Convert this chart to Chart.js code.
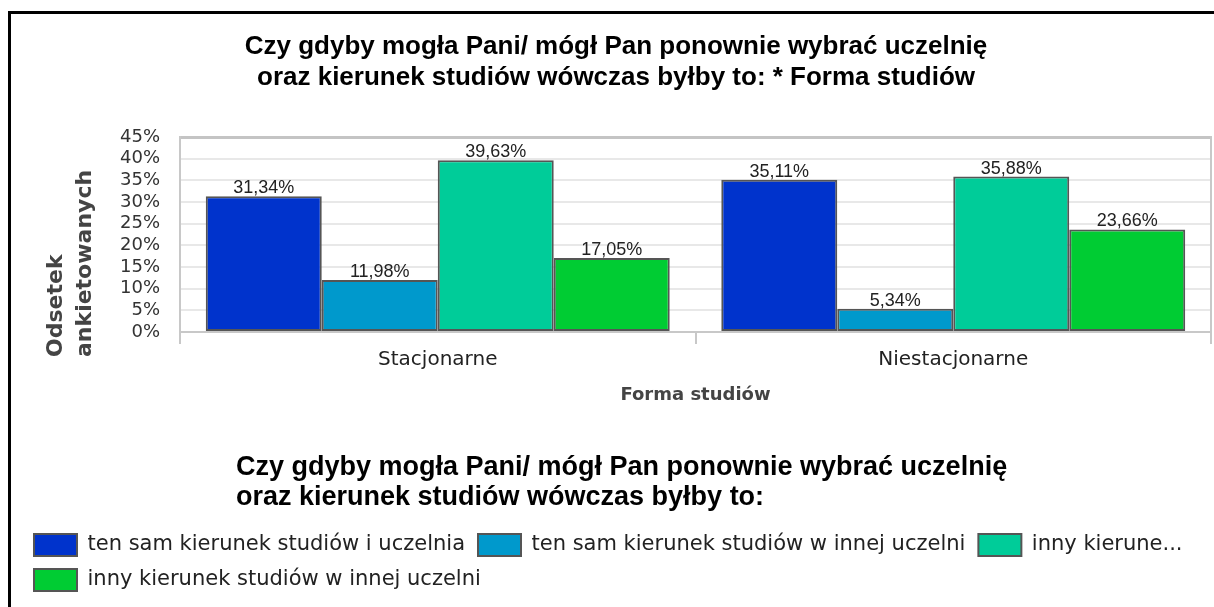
<!DOCTYPE html>
<html lang="pl">

<head>
    <meta charset="UTF-8">
    <title>Forma studiów</title>
    <script src="https://cdn.jsdelivr.net/npm/chart.js@4.4.1/dist/chart.umd.min.js"></script>
    <style>
        body {
            margin: 0;
            background-color: #fff;
        }

        .frame {
            position: absolute;
            left: 8px;
            top: 11px;
            border-left: 3px solid #000;
            border-top: 3px solid #000;
        }

        canvas {
            display: block;
        }
    </style>
</head>

<body>
    <div class="frame">
        <canvas id="formaChart" width="1203" height="593"></canvas>
    </div>

    <script>
        // values (percent of respondents)
        const categories = ['Stacjonarne', 'Niestacjonarne'];
        const seriesLabels = [
            'ten sam kierunek studiów i uczelnia',
            'ten sam kierunek studiów w innej uczelni',
            'inny kierune...',
            'inny kierunek studiów w innej uczelni'
        ];
        const sameFieldSameUni = [31.34, 35.11];
        const sameFieldOtherUni = [11.98, 5.34];
        const otherFieldSameUni = [39.63, 35.88];
        const otherFieldOtherUni = [17.05, 23.66];
        const yTicks = [0, 5, 10, 15, 20, 25, 30, 35, 40, 45];

        const chartTitle = ['Czy gdyby mogła Pani/ mógł Pan ponownie wybrać uczelnię',
            'oraz kierunek studiów wówczas byłby to: * Forma studiów'];
        const legendTitle = ['Czy gdyby mogła Pani/ mógł Pan ponownie wybrać uczelnię',
            'oraz kierunek studiów wówczas byłby to:'];
        const yTitle = ['Odsetek', 'ankietowanych'];
        const xTitle = 'Forma studiów';

        const colors = ['#0033cc', '#0099cc', '#00cc99', '#00cc33'];

        Chart.defaults.font.family = '"DejaVu Sans", sans-serif';

        // value labels above bars, y-axis title and legend title
        const extraText = {
            id: 'extraText',
            afterDatasetsDraw(chart) {
                const ctx = chart.ctx;
                ctx.save();
                ctx.font = '18px "Liberation Sans"';
                ctx.fillStyle = '#222';
                ctx.textAlign = 'center';
                ctx.textBaseline = 'alphabetic';
                chart.data.datasets.forEach((ds, i) => {
                    chart.getDatasetMeta(i).data.forEach((bar, j) => {
                        ctx.fillText(ds.data[j].toFixed(2).replace('.', ',') + '%', bar.x, bar.y - 3);
                    });
                });
                ctx.restore();
            },
            afterDraw(chart) {
                const ctx = chart.ctx;
                const area = chart.chartArea;
                ctx.save();
                ctx.font = 'bold 22px "DejaVu Sans"';
                ctx.fillStyle = '#444';
                ctx.textAlign = 'left';
                ctx.textBaseline = 'alphabetic';
                yTitle.forEach((line, i) => {
                    ctx.save();
                    ctx.translate(51 + i * 29, area.bottom + 25);
                    ctx.rotate(-Math.PI / 2);
                    ctx.fillText(line, 0, 0);
                    ctx.restore();
                });

                const lg = chart.legend;
                ctx.font = 'bold 27px "Liberation Sans"';
                ctx.fillStyle = '#000';
                ctx.textBaseline = 'middle';
                legendTitle.forEach((line, i) => ctx.fillText(line, 225, lg.top + 61 + i * 30));
                ctx.restore();
            }
        };

        const seriesData = [sameFieldSameUni, sameFieldOtherUni, otherFieldSameUni, otherFieldOtherUni];

        const ctx = document.getElementById('formaChart').getContext('2d');
        const formaChart = new Chart(ctx, {
            type: 'bar',
            data: {
                labels: categories,
                datasets: seriesData.map((values, i) => ({
                    label: seriesLabels[i],
                    data: values,
                    backgroundColor: colors[i],
                    borderColor: '#555',
                    borderWidth: 2,
                    borderSkipped: false,
                    categoryPercentage: 0.9,
                    barPercentage: 1.0
                }))
            },
            options: {
                responsive: false,
                animation: false,
                layout: {
                    padding: { left: 10, right: 3, top: 0, bottom: 6 }
                },
                plugins: {
                    tooltip: { enabled: false },
                    title: {
                        display: true,
                        text: chartTitle,
                        color: '#000',
                        font: { family: '"Liberation Sans"', size: 26, weight: 'bold', lineHeight: 1.2 },
                        padding: { top: 16.8, bottom: 43.8 }
                    },
                    legend: {
                        position: 'bottom',
                        align: 'start',
                        title: {
                            display: true,
                            text: '',
                            font: { size: 10, lineHeight: 1 },
                            padding: { top: 104.4, bottom: 0 }
                        },
                        labels: {
                            boxWidth: 43,
                            boxHeight: 22,
                            padding: 13,
                            color: '#222',
                            font: { size: 21 }
                        }
                    }
                },
                scales: {
                    x: {
                        offset: true,
                        grid: {
                            offset: true,
                            drawOnChartArea: false,
                            drawTicks: true,
                            tickLength: 12,
                            color: '#c8c8c8',
                            lineWidth: 2
                        },
                        border: { display: true, color: '#c8c8c8', width: 2 },
                        ticks: { padding: 4, color: '#222', font: { size: 20 } },
                        title: {
                            display: true,
                            text: xTitle,
                            color: '#444',
                            font: { size: 18, weight: 'bold', lineHeight: 1.2 },
                            padding: { top: 9, bottom: 0 }
                        }
                    },
                    y: {
                        min: 0,
                        max: 45,
                        afterBuildTicks: (scale) => {
                            scale.ticks = yTicks.map(v => ({ value: v }));
                        },
                        afterFit: (scale) => {
                            scale.width = 159;
                        },
                        grid: {
                            drawTicks: false,
                            color: (c) => c.tick && c.tick.value === 45 ? '#c4c4c4' : '#e8e8e8',
                            lineWidth: (c) => c.tick && c.tick.value === 45 ? 3 : 2
                        },
                        border: { display: true, color: '#c8c8c8', width: 2 },
                        ticks: {
                            padding: 20,
                            autoSkip: false,
                            color: '#333',
                            font: { size: 18 },
                            callback: (v) => v + '%'
                        }
                    },
                    y1: {
                        position: 'right',
                        min: 0,
                        max: 45,
                        ticks: { display: false },
                        grid: { display: false, drawTicks: false },
                        border: { display: true, color: '#c8c8c8', width: 2 }
                    }
                }
            },
            plugins: [extraText]
        });
    </script>
</body>

</html>
